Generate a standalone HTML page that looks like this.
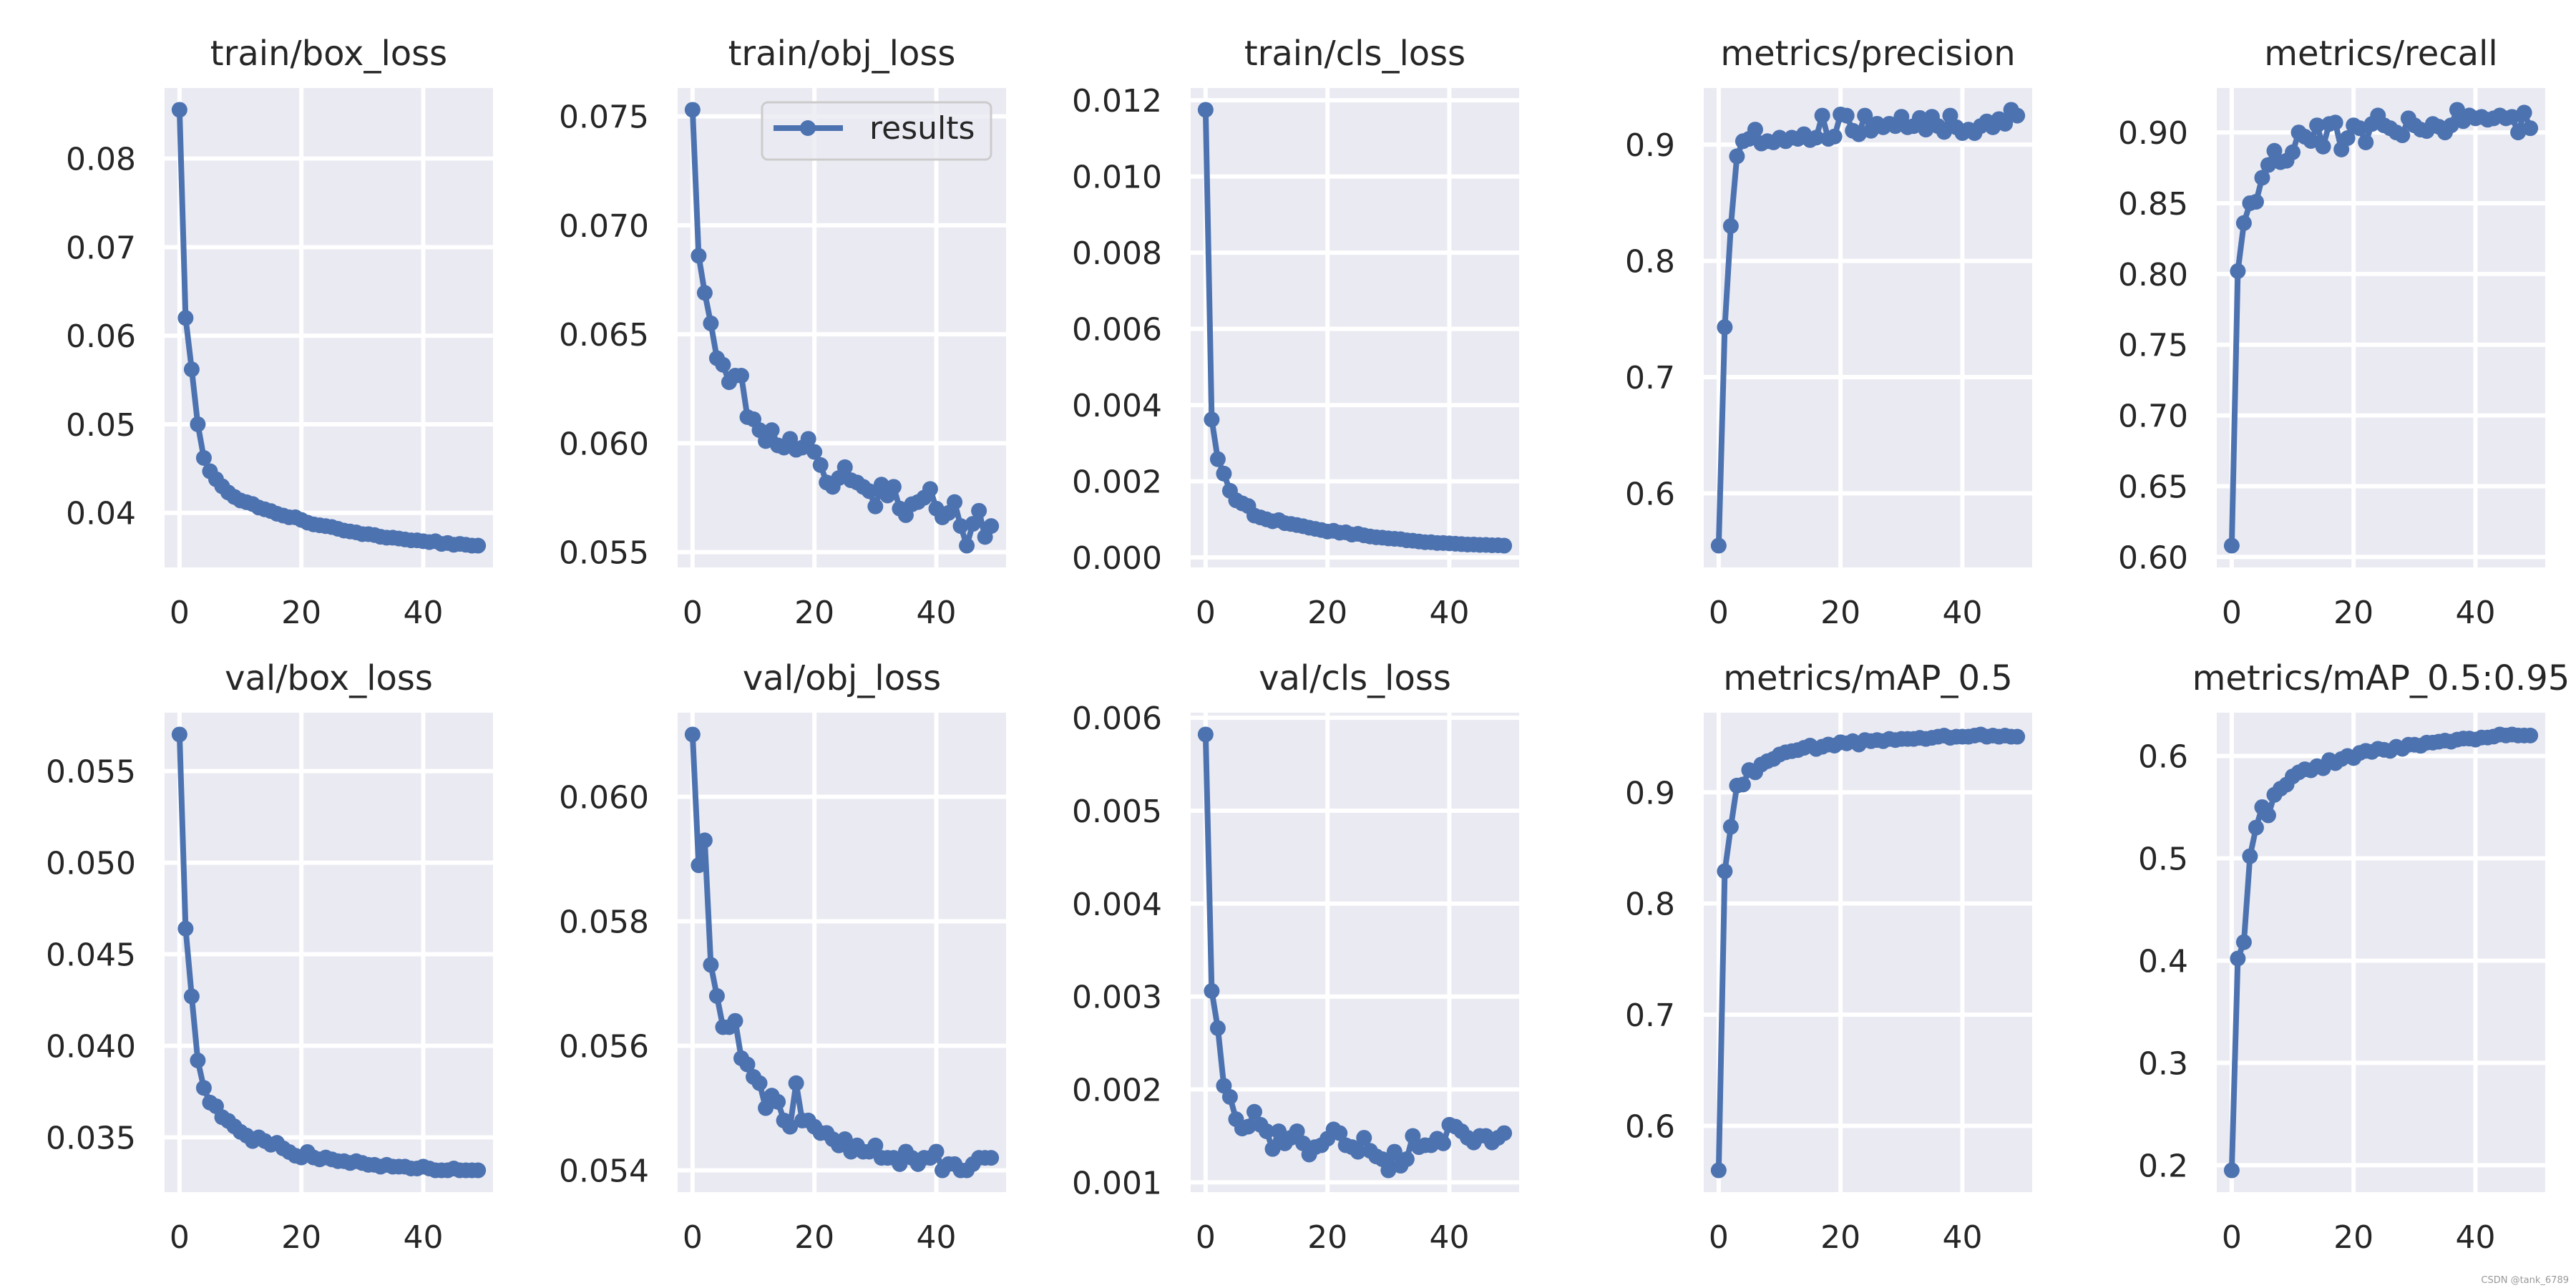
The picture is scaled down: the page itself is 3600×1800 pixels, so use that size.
<!DOCTYPE html>
<html><head><meta charset="utf-8">
<style>
html,body{margin:0;padding:0;background:#fff;}
svg{display:block;font-family:"DejaVu Sans","Liberation Sans",sans-serif;}
</style></head>
<body>
<svg id="fig" width="3600" height="1800" viewBox="0 0 3600 1800" xmlns="http://www.w3.org/2000/svg">
<text x="3590" y="1793" font-size="13" fill="#999" text-anchor="end">CSDN @tank_6789</text>
</svg>
<script>
const epochs = Array.from({length:50},(_,i)=>i);
const xTicks = [0,20,40];
const trainBox = [0.0855,0.062,0.0562,0.050,0.0462,0.0447,0.0438,0.0430,0.0423,0.0418,0.0414,0.0412,0.0410,0.0406,0.0404,0.0402,0.0399,0.0397,0.0395,0.0395,0.0392,0.0389,0.0387,0.0386,0.0385,0.0384,0.0382,0.0380,0.0379,0.0378,0.0376,0.0376,0.0375,0.0373,0.0372,0.0372,0.0371,0.0370,0.0369,0.0369,0.0368,0.0367,0.0368,0.0365,0.0366,0.0364,0.0365,0.0364,0.0363,0.0363];
const trainObj = [0.0753,0.0686,0.0669,0.0655,0.0639,0.0636,0.0628,0.0631,0.0631,0.0612,0.0611,0.0606,0.0601,0.0606,0.0599,0.0598,0.0602,0.0597,0.0598,0.0602,0.0596,0.0590,0.0582,0.0580,0.0584,0.0589,0.0583,0.0582,0.0580,0.0578,0.0571,0.0581,0.0576,0.0580,0.0570,0.0567,0.0572,0.0573,0.0575,0.0579,0.0570,0.0566,0.0568,0.0573,0.0562,0.0553,0.0563,0.0569,0.0557,0.0562];
const trainCls = [0.01175,0.00362,0.00258,0.0022,0.00175,0.0015,0.00142,0.00135,0.0011,0.00105,0.001,0.00095,0.00098,0.0009,0.00088,0.00085,0.00082,0.00078,0.00075,0.00072,0.00068,0.0007,0.00065,0.00066,0.0006,0.00062,0.00058,0.00055,0.00053,0.00052,0.0005,0.00049,0.00048,0.00045,0.00044,0.00042,0.0004,0.0004,0.00038,0.00038,0.00037,0.00036,0.00035,0.00034,0.00034,0.00033,0.00033,0.00032,0.00032,0.00031];
const precision = [0.555,0.743,0.83,0.89,0.903,0.905,0.913,0.901,0.903,0.902,0.906,0.903,0.906,0.905,0.909,0.904,0.906,0.925,0.905,0.907,0.926,0.925,0.912,0.909,0.925,0.912,0.918,0.915,0.918,0.916,0.924,0.915,0.916,0.923,0.913,0.924,0.916,0.911,0.925,0.915,0.91,0.913,0.91,0.916,0.92,0.915,0.922,0.918,0.93,0.925];
const recall = [0.608,0.802,0.836,0.85,0.851,0.868,0.877,0.887,0.879,0.880,0.886,0.900,0.897,0.894,0.905,0.890,0.906,0.907,0.888,0.896,0.905,0.903,0.893,0.906,0.912,0.905,0.903,0.900,0.898,0.910,0.905,0.902,0.901,0.906,0.904,0.900,0.905,0.916,0.908,0.912,0.910,0.911,0.909,0.910,0.912,0.910,0.911,0.900,0.914,0.903];
const valBox = [0.057,0.0464,0.0427,0.0392,0.0377,0.0369,0.0367,0.0361,0.0359,0.0356,0.0353,0.0351,0.0348,0.0350,0.0348,0.0346,0.0347,0.0344,0.0342,0.0340,0.0339,0.0342,0.0339,0.0338,0.0339,0.0338,0.0337,0.0337,0.0336,0.0337,0.0336,0.0335,0.0335,0.0334,0.0335,0.0334,0.0334,0.0334,0.0333,0.0333,0.0334,0.0333,0.0332,0.0332,0.0332,0.0333,0.0332,0.0332,0.0332,0.0332];
const valObj = [0.0610,0.0589,0.0593,0.0573,0.0568,0.0563,0.0563,0.0564,0.0558,0.0557,0.0555,0.0554,0.0550,0.0552,0.0551,0.0548,0.0547,0.0554,0.0548,0.0548,0.0547,0.0546,0.0546,0.0545,0.0544,0.0545,0.0543,0.0544,0.0543,0.0543,0.0544,0.0542,0.0542,0.0542,0.0541,0.0543,0.0542,0.0541,0.0542,0.0542,0.0543,0.0540,0.0541,0.0541,0.0540,0.0540,0.0541,0.0542,0.0542,0.0542];
const valCls = [0.00582,0.00306,0.00266,0.00204,0.00192,0.00168,0.00158,0.0016,0.00176,0.00162,0.00155,0.00136,0.00155,0.00142,0.00148,0.00155,0.00142,0.00130,0.00138,0.00140,0.00147,0.00157,0.00153,0.00140,0.00138,0.00133,0.00148,0.00134,0.00128,0.00125,0.00113,0.00133,0.00118,0.00125,0.00150,0.00138,0.00140,0.00140,0.00147,0.00142,0.00162,0.00160,0.00155,0.00148,0.00143,0.00150,0.00150,0.00143,0.00148,0.00153];
const map50 = [0.56,0.829,0.869,0.906,0.907,0.92,0.918,0.925,0.928,0.930,0.934,0.936,0.937,0.938,0.940,0.942,0.939,0.941,0.943,0.942,0.945,0.944,0.946,0.943,0.947,0.946,0.947,0.946,0.948,0.947,0.948,0.948,0.948,0.949,0.948,0.949,0.950,0.951,0.949,0.950,0.950,0.950,0.951,0.952,0.950,0.951,0.950,0.951,0.950,0.950];
const map5095 = [0.195,0.402,0.418,0.502,0.530,0.550,0.542,0.562,0.568,0.572,0.580,0.584,0.587,0.586,0.590,0.588,0.596,0.593,0.597,0.600,0.598,0.603,0.605,0.604,0.607,0.606,0.605,0.609,0.607,0.611,0.611,0.610,0.613,0.613,0.614,0.615,0.614,0.616,0.617,0.617,0.616,0.618,0.618,0.619,0.621,0.620,0.621,0.620,0.620,0.620];
const titles = ["train/box_loss","train/obj_loss","train/cls_loss","metrics/precision","metrics/recall","val/box_loss","val/obj_loss","val/cls_loss","metrics/mAP_0.5","metrics/mAP_0.5:0.95"];
const series = [trainBox,trainObj,trainCls,precision,recall,valBox,valObj,valCls,map50,map5095];
const yTickLabels = [
 ["0.04","0.05","0.06","0.07","0.08"],
 ["0.055","0.060","0.065","0.070","0.075"],
 ["0.000","0.002","0.004","0.006","0.008","0.010","0.012"],
 ["0.6","0.7","0.8","0.9"],
 ["0.60","0.65","0.70","0.75","0.80","0.85","0.90"],
 ["0.035","0.040","0.045","0.050","0.055"],
 ["0.054","0.056","0.058","0.060"],
 ["0.001","0.002","0.003","0.004","0.005","0.006"],
 ["0.6","0.7","0.8","0.9"],
 ["0.2","0.3","0.4","0.5","0.6"]
];
const NS="http://www.w3.org/2000/svg";
const svg=document.getElementById('fig');
function mk(tag,attrs,parent){const e=document.createElementNS(NS,tag);for(const k in attrs)e.setAttribute(k,attrs[k]);(parent||svg).appendChild(e);return e;}
const lefts=[230,947,1664,2381,3098], W=459;
const tops=[123,996], H=670;
const COLOR="#4C72B0";
series.forEach((data,idx)=>{
  const col=idx%5,row=Math.floor(idx/5);
  const L=lefts[col],T=tops[row];
  const g=mk('g',{});
  
  
  const bg=mk('rect',{x:L,y:T,width:W,height:H,fill:'#EAEAF2'},g);
  
  
  const xmin=-2.45,xmax=51.45;
  let mn=Math.min(...data),mx=Math.max(...data),pad=(mx-mn)*0.05;
  const ymin=mn-pad,ymax=mx+pad;
  const sx=v=>L+(v-xmin)/(xmax-xmin)*W;
  const sy=v=>T+H-(v-ymin)/(ymax-ymin)*H;
  xTicks.forEach(t=>{
    const gl=mk('line',{x1:sx(t),x2:sx(t),y1:T,y2:T+H,stroke:'#fff','stroke-width':6},g);
    
    
    const tl=mk('text',{x:sx(t),y:T+H+78,'font-size':44,fill:'#262626','text-anchor':'middle'},g);
    tl.textContent=t;
    
    
  });
  yTickLabels[idx].forEach(s=>{
    const v=parseFloat(s); if(v<ymin-1e-12||v>ymax+1e-12) return;
    const gl=mk('line',{x1:L,x2:L+W,y1:sy(v),y2:sy(v),stroke:'#fff','stroke-width':6},g);
    
    
    const tl=mk('text',{x:L-40,y:sy(v)+16,'font-size':44,fill:'#262626','text-anchor':'end'},g);
    tl.textContent=s;
    
    
  });
  const ttl=mk('text',{x:L+W/2,y:T-32,'font-size':48,fill:'#262626','text-anchor':'middle'},g);
  ttl.textContent=titles[idx];
  
  
  const pts=data.map((v,i)=>sx(epochs[i]).toFixed(1)+','+sy(v).toFixed(1)).join(' ');
  const pl=mk('polyline',{points:pts,fill:'none',stroke:COLOR,'stroke-width':8,'stroke-linejoin':'round'},g);
  
  
  data.forEach((v,i)=>{
    const c=mk('circle',{cx:sx(epochs[i]),cy:sy(v),r:11,fill:COLOR},g);
    
    
  });
  if(idx===1){
    const lg=mk('g',{},g);
    
    
    mk('rect',{x:1065,y:143,width:320,height:80,rx:8,fill:'#EAEAF2','fill-opacity':0.8,stroke:'#cccccc','stroke-width':3},lg);
    mk('line',{x1:1081,x2:1178,y1:179,y2:179,stroke:COLOR,'stroke-width':8},lg);
    mk('circle',{cx:1129,cy:179,r:11,fill:COLOR},lg);
    const lt=mk('text',{x:1215,y:194,'font-size':44,fill:'#262626'},lg);
    lt.textContent='results';
    
    
  }
});
</script>
</body></html>
